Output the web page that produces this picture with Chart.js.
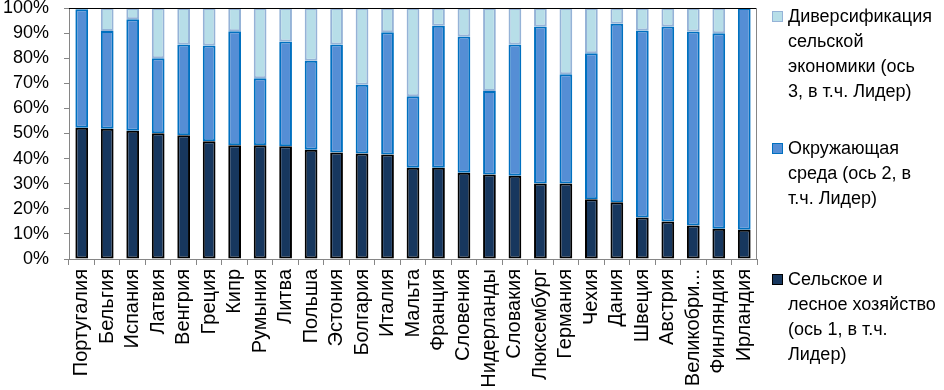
<!DOCTYPE html>
<html>
<head>
<meta charset="utf-8">
<script src="https://cdn.jsdelivr.net/npm/chart.js@4"></script>
<style>
  html, body { margin: 0; padding: 0; background: #fff; }
  #wrap { position: relative; width: 944px; height: 390px; }
  #c { position: absolute; left: 0; top: 0; }
  .leg { position: absolute; left: 772px; font-family: "Liberation Sans", Arial, sans-serif; font-size: 18px; line-height: 25px; color: #000; }
  .leg .sq { position: absolute; left: 0; width: 9px; height: 9px; }
  .leg .tx { position: absolute; left: 16px; white-space: nowrap; }
</style>
</head>
<body>
<div id="wrap">
  <canvas id="c" width="944" height="390"></canvas>
  <div class="leg" style="top:4px;">
    <div class="sq" style="top:7px;background:#B7DEE8;border:1px solid #95B3D7;"></div>
    <div class="tx">Диверсификация<br>сельской<br>экономики (ось<br>3, в т.ч. Лидер)</div>
  </div>
  <div class="leg" style="top:136px;">
    <div class="sq" style="top:7px;background:#558ED5;border:1px solid #0070C0;"></div>
    <div class="tx">Окружающая<br>среда (ось 2, в<br>т.ч. Лидер)</div>
  </div>
  <div class="leg" style="top:267px;">
    <div class="sq" style="top:7px;background:#17375E;border:1px solid #000;"></div>
    <div class="tx">Сельское и<br>лесное хозяйство<br>(ось 1, в т.ч.<br>Лидер)</div>
  </div>
</div>
<script>
const categories = ["Португалия","Бельгия","Испания","Латвия","Венгрия","Греция","Кипр","Румыния","Литва","Польша","Эстония","Болгария","Италия","Мальта","Франция","Словения","Нидерланды","Словакия","Люксембург","Германия","Чехия","Дания","Швеция","Австрия","Великобри...","Финляндия","Ирландия"];
const axis1 = [52.3,51.9,51.1,50.1,49.3,46.9,45.3,45.3,44.9,43.5,42.4,42.0,41.6,36.4,36.4,34.4,33.7,33.2,30.1,30.1,23.8,22.6,16.5,14.9,13.3,12.1,11.7];
const axis2 = [47.2,38.9,44.4,29.9,36.2,38.2,45.4,26.7,41.8,35.5,43.1,27.4,48.7,28.4,56.5,54.2,33.2,52.3,62.5,43.5,58.2,71.1,74.5,77.7,77.3,77.8,88.3];
const axis3 = [0.5,9.2,4.5,20.0,14.5,14.9,9.3,28.0,13.3,21.0,14.5,30.6,9.7,35.2,7.1,11.4,33.1,14.5,7.4,26.4,18.0,6.3,9.0,7.4,9.4,10.1,0.0];
const yTicks = [0,10,20,30,40,50,60,70,80,90,100];

const FONT = "'Liberation Sans', Arial, sans-serif";

const framePlugin = {
  id: 'frame',
  afterDatasetsDraw(chart) {
    const {ctx, chartArea: a} = chart;
    ctx.save();
    ctx.lineWidth = 1;
    ctx.strokeStyle = '#000';
    ctx.beginPath();
    ctx.moveTo(a.left, a.top + 0.5);
    ctx.lineTo(a.right, a.top + 0.5);
    ctx.stroke();
    ctx.strokeStyle = '#868686';
    ctx.beginPath();
    ctx.moveTo(a.right - 0.5, a.top);
    ctx.lineTo(a.right - 0.5, a.bottom);
    ctx.stroke();
    ctx.restore();
  }
};

new Chart(document.getElementById('c'), {
  type: 'bar',
  data: {
    labels: categories,
    datasets: [
      { label: 'Сельское и лесное хозяйство (ось 1, в т.ч. Лидер)', data: axis1, backgroundColor: '#17375E', borderColor: '#000000', borderWidth: 2, borderSkipped: false },
      { label: 'Окружающая среда (ось 2, в т.ч. Лидер)', data: axis2, backgroundColor: '#558ED5', borderColor: '#0070C0', borderWidth: 2, borderSkipped: false },
      { label: 'Диверсификация сельской экономики (ось 3, в т.ч. Лидер)', data: axis3, backgroundColor: '#B7DEE8', borderColor: '#95B3D7', borderWidth: 2, borderSkipped: false }
    ]
  },
  options: {
    responsive: false,
    animation: false,
    devicePixelRatio: 1,
    layout: { padding: { top: 8, right: 187, left: 0, bottom: 0 } },
    datasets: { bar: { categoryPercentage: 1.0, barPercentage: 0.5 } },
    plugins: { legend: { display: false }, tooltip: { enabled: false } },
    scales: {
      x: {
        stacked: true,
        grid: { display: true, offset: true, drawOnChartArea: false, drawTicks: true, tickLength: 6, color: '#868686' },
        border: { display: true, color: '#868686' },
        ticks: { minRotation: 90, maxRotation: 90, autoSkip: false, color: '#000', padding: 4, font: { family: FONT, size: 20 } },
        afterFit(s) { s.height = 131; s.paddingLeft = 0; s.paddingRight = 0; }
      },
      y: {
        stacked: true,
        min: 0, max: 100,
        afterBuildTicks(s) { s.ticks = yTicks.map(v => ({ value: v })); },
        grid: { display: true, drawOnChartArea: false, drawTicks: true, tickLength: 5, color: '#868686' },
        border: { display: true, color: '#868686' },
        ticks: { autoSkip: false, stepSize: 10, color: '#000', padding: 15, font: { family: FONT, size: 18 }, callback: v => v + '%' },
        afterFit(s) { s.width = 69; s.paddingTop = 0; s.paddingBottom = 0; }
      }
    }
  },
  plugins: [framePlugin]
});
</script>
</body>
</html>
